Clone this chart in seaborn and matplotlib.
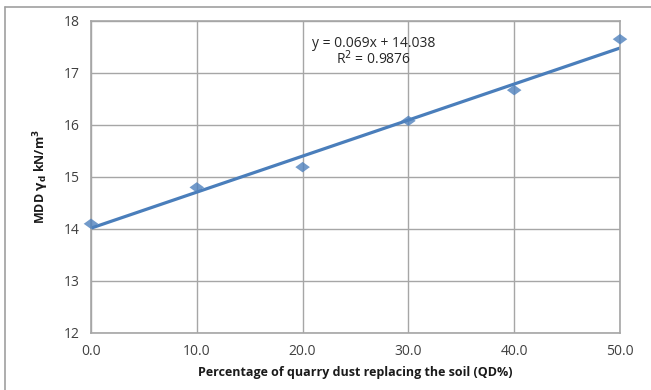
import matplotlib
matplotlib.use("Agg")
import matplotlib.pyplot as plt
import seaborn as sns
import pandas as pd
from matplotlib.lines import Line2D

qd_percent = [0, 10, 20, 30, 40, 50]
mdd_values = [14.1, 14.8, 15.19, 16.08, 16.67, 17.65]
x_ticks = [0, 10, 20, 30, 40, 50]
x_tick_labels = ["0.0", "10.0", "20.0", "30.0", "40.0", "50.0"]
y_ticks = [12, 13, 14, 15, 16, 17, 18]
equation_text = "y = 0.069x + 14.038"
r2_text = "R$^2$ = 0.9876"

df = pd.DataFrame({"QD": qd_percent, "MDD": mdd_values})

sns.set_style("white")
plt.rcParams['font.family'] = ['Open Sans', 'DejaVu Sans']

fig = plt.figure(figsize=(6.51, 3.90), dpi=100)
ax = fig.add_axes([91/651, 1-333/390, (620-91)/651, (333-21)/390])

blue = "#4A7EBB"
grid_c = "#A6A6A6"
flat_diamond = [(-1, 0), (0, 0.72), (1, 0), (0, -0.72), (-1, 0)]
sns.regplot(data=df, x="QD", y="MDD", ax=ax, ci=None, truncate=True,
            marker=flat_diamond,
            scatter_kws=dict(s=110, color="#4F81BD", edgecolors="none",
                             zorder=3, clip_on=False),
            line_kws=dict(color=blue, lw=2.3, zorder=2))

ax.set_xlim(0, 50)
ax.set_ylim(12, 18)
ax.set_xticks(x_ticks)
ax.set_xticklabels(x_tick_labels)
ax.set_yticks(y_ticks)
ax.grid(True, color=grid_c, lw=1.0)
ax.set_axisbelow(True)
for s in ax.spines.values():
    s.set_color(grid_c)
    s.set_linewidth(1.2)
ax.tick_params(axis="y", direction="out", length=5, width=1, color=grid_c,
               labelsize=10, labelcolor="#404040", pad=3)
ax.tick_params(axis="x", length=0, labelsize=10, labelcolor="#404040", pad=8)

ax.set_xlabel("Percentage of quarry dust replacing the soil (QD%)",
              fontsize=9, fontweight="bold", color="#1a1a1a", labelpad=5)
ax.set_ylabel(r"MDD $\mathbf{\gamma_d}$ kN/m$^\mathbf{3}$", fontsize=9,
              fontweight="bold", color="#1a1a1a", labelpad=9)

ax.text(0.535, 0.928, equation_text, transform=ax.transAxes, ha="center",
        va="center", fontsize=10, color="#262626")
ax.text(0.535, 0.878, r2_text, transform=ax.transAxes, ha="center",
        va="center", fontsize=10, color="#262626")

fig.add_artist(Line2D([5/651, 5/651], [0, 1-7/390], transform=fig.transFigure,
                      color="#A0A0A0", lw=1.2))
fig.add_artist(Line2D([5/651, 1], [1-7/390, 1-7/390], transform=fig.transFigure,
                      color="#A0A0A0", lw=1.2))

fig.savefig("out.png", dpi=100)
